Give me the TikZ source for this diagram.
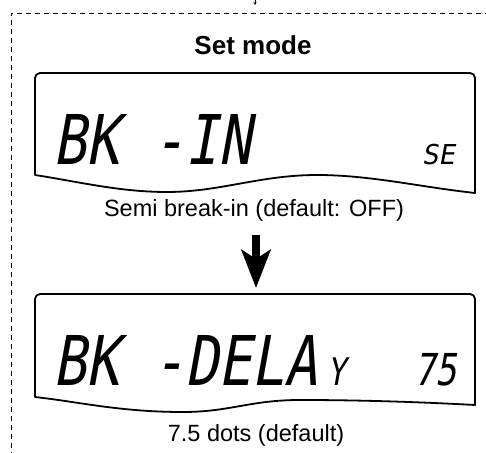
\documentclass[tikz,border=0pt]{standalone}
\usepackage{fontspec}
\setmainfont{Liberation Sans}
\newfontfamily\lcdfont[FakeSlant=0.18,FakeStretch=0.8]{DejaVu Sans Mono}
\newfontfamily\lcdwide[FakeSlant=0.18]{DejaVu Sans Mono}
\usetikzlibrary{arrows.meta,positioning}

\begin{document}
\begin{tikzpicture}[
  x=1pt, y=1pt,
  frame/.style={line width=0.9pt, dash pattern=on 5pt off 4pt},
  lcdbox/.style={line width=1.8pt, line join=round},
  caption/.style={font=\fontsize{23.5}{26}\selectfont, anchor=base},
  title/.style={font=\bfseries\fontsize{26}{30}\selectfont, anchor=base},
  lcdbig/.style={font=\lcdfont\fontsize{68.6}{70}\selectfont, anchor=base west, inner sep=0pt},
  lcdsmall/.style={font=\lcdwide\fontsize{27.4}{30}\selectfont, anchor=base east, inner sep=0pt},
  bigarrow/.style={-{Stealth[length=38pt,width=29pt,inset=9pt]}, line width=8pt}
]
\useasboundingbox (0,0) rectangle (486,452);

% frame round the mode
\coordinate (feedin) at (255,458);
\coordinate (feedtip) at (255,447);
\draw[line width=0.8pt, -{Stealth[length=3pt,width=3pt]}] (feedin) -- (feedtip);
\draw[frame] (490,439) -- (11,439) -- (11,-4);

\node[title] (setmode) at (253,397) {Set mode};

% first display
\draw[lcdbox] (35,277) -- (35,374) arc(180:90:5) -- (470,379) arc(90:0:5) -- (475,259)
  .. controls (420,265) and (370,277) .. (317,277)
  .. controls (260,277) and (220,260) .. (167,260)
  .. controls (120,260) and (80,270) .. (35,277) -- cycle;
\node[lcdbig] (mode1) at (53,287) {BK -IN};
\node[lcdsmall] (val1) at (455,287) {SE};
\node[caption] (desc1) at (254,235) {Semi break-in (default: OFF)};

\coordinate (lcd2top) at (256,158);
\draw[bigarrow, shorten <=10pt, shorten >=6pt] (desc1.south -| lcd2top) -- (lcd2top);

% second display
\draw[lcdbox] (35,55) -- (35,153) arc(180:90:5) -- (470,158) arc(90:0:5) -- (475,47)
  .. controls (420,50) and (360,52) .. (300,52)
  .. controls (250,52) and (230,40) .. (183,40)
  .. controls (120,40) and (80,50) .. (35,55) -- cycle;
\node[lcdbig] (mode2) at (53,67) {BK -DELA\hspace{10pt}{\fontsize{38}{40}\selectfont Y}};
\node[lcdsmall, font=\lcdfont\fontsize{44}{46}\selectfont] (val2) at (457,67) {75};
\node[caption] (desc2) at (256,11) {7.5 dots (default)};
\end{tikzpicture}
\end{document}
